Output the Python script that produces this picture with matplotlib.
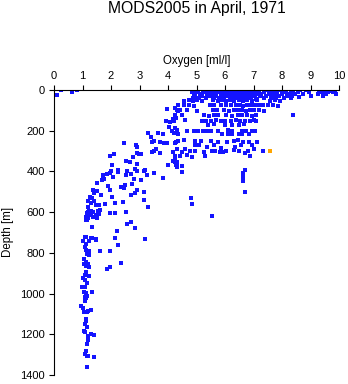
import numpy as np
import matplotlib.pyplot as plt

plt.rcParams['font.family'] = ['Liberation Sans', 'DejaVu Sans']

# (oxygen ml/l, depth m) pairs, grouped by layer

# mixed layer, 0-55 m
surface = [
    (4.88, 0), (5.05, 2), (5.22, 0), (5.40, 1), (5.58, 0), (5.75, 3), (5.92, 0),
    (6.08, 1), (6.22, 0), (6.36, 2), (6.50, 0), (6.62, 1), (6.74, 0), (6.88, 2),
    (7.02, 0), (7.20, 1), (7.48, 0), (7.70, 2), (7.92, 0), (8.15, 1), (8.40, 0),
    (8.62, 2), (8.85, 0), (9.30, 1), (9.50, 0), (9.72, 3), (9.86, 0),
    (4.85, 10), (5.00, 8), (5.28, 10), (5.46, 12), (5.62, 10), (5.82, 9), (6.02, 10),
    (6.18, 11), (6.30, 10), (6.44, 8), (6.56, 10), (6.70, 12), (6.82, 10), (6.95, 9),
    (7.12, 10), (7.36, 11), (7.62, 10), (7.84, 8), (8.06, 10), (8.30, 12), (8.55, 10),
    (8.95, 9), (9.40, 10), (9.62, 12), (9.80, 10),
    (4.90, 20), (5.14, 19), (5.36, 20), (5.56, 22), (5.70, 20), (5.88, 18), (6.10, 20),
    (6.26, 21), (6.40, 20), (6.52, 19), (6.66, 20), (6.80, 22), (6.92, 20), (7.08, 18),
    (7.28, 20), (7.55, 21), (7.76, 20), (8.00, 19), (8.22, 20), (8.46, 22), (8.72, 20),
    (9.25, 19), (9.55, 20), (9.90, 21),
    (4.95, 30), (5.20, 29), (5.48, 30), (5.66, 31), (5.85, 30), (6.00, 28), (6.14, 30),
    (6.34, 32), (6.48, 30), (6.60, 29), (6.72, 30), (6.86, 31), (7.04, 30), (7.22, 28),
    (7.44, 30), (7.66, 31), (7.90, 30), (8.16, 29), (8.36, 30), (8.60, 32), (9.02, 30),
    (9.45, 31),
    (4.86, 40), (5.10, 39), (5.34, 40), (5.60, 41), (5.80, 40), (5.96, 38), (6.20, 40),
    (6.38, 41), (6.54, 40), (6.68, 39), (6.90, 40), (7.10, 42), (7.38, 40), (7.60, 39),
    (7.80, 40), (8.08, 41), (8.30, 40),
    (4.55, 52), (4.72, 50), (4.86, 53), (5.02, 50), (5.20, 52), (5.58, 50), (5.74, 54),
    (5.88, 50), (6.04, 52), (6.18, 50), (6.32, 53), (6.48, 50), (6.62, 52), (6.78, 50),
    (6.96, 54), (7.14, 50), (7.58, 52), (7.74, 50), (7.94, 53),
]

# upper thermocline, 60-620 m, still well oxygenated
upper = [
    (4.35, 75), (4.55, 73), (4.75, 75), (4.90, 77), (5.48, 75), (5.62, 74), (5.86, 75),
    (6.05, 76), (6.22, 75), (6.40, 73), (6.52, 75), (6.64, 77), (6.76, 75), (6.90, 74),
    (7.04, 75), (7.18, 76), (7.32, 75), (7.52, 73), (7.70, 75), (7.86, 77),
    (4.30, 100), (4.42, 98), (4.68, 100), (5.00, 102), (5.58, 100), (5.72, 99),
    (5.98, 100), (6.14, 101), (6.30, 100), (6.46, 98), (6.60, 100), (6.74, 102),
    (6.88, 100), (7.02, 99), (7.20, 100), (7.36, 101),
    (4.26, 125), (4.50, 123), (5.28, 125), (5.44, 126), (5.60, 125), (5.76, 124),
    (6.02, 125), (6.24, 127), (6.44, 125), (6.60, 123), (6.76, 125), (6.94, 126),
    (7.08, 125), (8.38, 123),
    (4.22, 150), (4.60, 148), (5.18, 150), (5.34, 151), (5.50, 150), (5.70, 149),
    (5.86, 150), (6.00, 152), (6.20, 150), (6.38, 148), (6.54, 150), (6.70, 151),
    (6.86, 150), (7.00, 149), (7.10, 150),
    (5.42, 170), (5.60, 168), (6.00, 170), (6.26, 172), (6.50, 170), (6.66, 169),
    (4.15, 200), (4.30, 198), (4.66, 200), (4.90, 201), (5.05, 200), (5.22, 199),
    (5.36, 200), (5.52, 202), (5.76, 200), (6.10, 198), (6.26, 200), (6.58, 201),
    (6.74, 200), (6.96, 199), (7.06, 200),
    (5.90, 215), (6.10, 216), (6.26, 214), (6.48, 215), (6.60, 217), (6.84, 215),
    (4.36, 250), (4.56, 248), (4.96, 250), (5.16, 252), (5.50, 250), (5.77, 254),
    (6.06, 254), (6.30, 250), (6.45, 248), (6.64, 254), (6.85, 254), (7.11, 254),
    (4.96, 270), (5.10, 272), (5.36, 278), (5.60, 270), (5.86, 286), (6.35, 278),
    (6.56, 270), (6.95, 272),
    (4.19, 303), (4.33, 291), (4.50, 306), (4.60, 291), (4.76, 300), (4.96, 298),
    (5.27, 306), (5.55, 300), (5.65, 300), (5.82, 303), (5.94, 303), (6.05, 300),
    (6.30, 296), (6.50, 300), (6.70, 311), (6.79, 300), (7.03, 290), (7.35, 300),
    (4.25, 324), (4.43, 324), (4.65, 319), (4.83, 331), (5.30, 325), (6.88, 324),
    (4.25, 355), (4.30, 373), (4.50, 373), (3.99, 368), (4.50, 404),
    (6.70, 393), (6.64, 409), (6.64, 426), (6.64, 447), (6.71, 503),
    (4.80, 532), (4.85, 562), (5.53, 617),
]

# oxycline, 90-760 m
cline = [
    (3.95, 95), (4.25, 88), (4.30, 100), (4.35, 105), (3.93, 152), (4.08, 159),
    (4.19, 144), (4.27, 137), (4.04, 180), (4.25, 185), (4.36, 216), (4.22, 210),
    (3.31, 213), (3.66, 210), (3.82, 218), (3.39, 232), (3.43, 257), (3.52, 249),
    (3.72, 254), (3.86, 259), (3.95, 262), (4.28, 254), (4.25, 262), (4.33, 291),
    (3.51, 298), (3.43, 303), (3.57, 291), (3.72, 308), (2.88, 270), (2.92, 280),
    (2.46, 262), (2.90, 309), (2.99, 316), (3.07, 314), (2.76, 331), (2.12, 314),
    (1.96, 323), (2.67, 352), (2.90, 363), (2.02, 368), (2.52, 349), (4.25, 336),
    (4.30, 352), (4.29, 366), (4.19, 349), (4.33, 380), (3.84, 434), (3.51, 406),
    (3.19, 393), (3.25, 418), (3.16, 396), (3.06, 442), (2.81, 437), (2.84, 390),
    (2.90, 400), (2.71, 414), (2.55, 396), (2.53, 418), (2.26, 393), (2.26, 403),
    (1.99, 398), (1.96, 409), (2.06, 426), (1.85, 413), (1.71, 418), (1.73, 429),
    (1.75, 437), (1.67, 442), (1.50, 458), (1.88, 470), (1.96, 491), (2.05, 524),
    (2.36, 478), (2.46, 483), (2.50, 467), (2.74, 463), (2.70, 516), (2.84, 508),
    (2.90, 491), (3.17, 499), (3.16, 540), (3.31, 573), (1.38, 491), (1.40, 508),
    (1.52, 495), (1.64, 516), (1.26, 524), (1.32, 529), (1.40, 545), (1.30, 557),
    (1.48, 565), (1.79, 560), (2.14, 553), (2.43, 549), (1.20, 573), (1.57, 565),
    (1.61, 589), (1.19, 598), (1.29, 603), (1.36, 598), (1.53, 594), (1.96, 603),
    (2.14, 603), (2.52, 600), (1.12, 622), (1.20, 628), (1.26, 612), (1.38, 622),
    (1.48, 612), (1.15, 638), (2.55, 658), (2.69, 650), (1.32, 671), (2.85, 678),
    (2.20, 691), (2.15, 725), (3.20, 732), (2.26, 760),
]

# deep water, oxygen minimum
deep = [
    (1.20, 545), (1.24, 594), (1.31, 594), (1.15, 606), (1.27, 614), (1.59, 611),
    (1.50, 630), (1.12, 639), (1.47, 737), (1.32, 729),
    (1.10, 720), (1.12, 722), (1.30, 727), (1.46, 733), (1.03, 742), (1.22, 742),
    (1.12, 757), (1.08, 773), (1.12, 786), (1.22, 789), (1.17, 806), (1.24, 811),
    (1.60, 789), (1.98, 789), (2.36, 848), (1.98, 871), (1.87, 881), (1.05, 832),
    (1.12, 845), (1.06, 855), (1.20, 855), (1.12, 865), (1.22, 871), (1.12, 892),
    (1.09, 909), (1.22, 914), (1.03, 925), (1.09, 934), (1.15, 946), (0.99, 969),
    (1.08, 969), (1.06, 991), (1.34, 994), (1.12, 999), (1.17, 1010), (1.08, 1015),
    (1.12, 1024), (1.09, 1036), (0.96, 1061), (1.03, 1073), (1.05, 1089),
    (1.17, 1089), (1.29, 1081), (1.20, 1084), (1.12, 1126), (1.12, 1137),
    (1.09, 1149), (1.15, 1166), (1.05, 1184), (1.09, 1190), (1.18, 1208),
    (1.29, 1200), (1.40, 1205), (1.20, 1228), (1.15, 1248), (1.12, 1281),
    (1.09, 1297), (1.15, 1307), (1.20, 1307), (1.39, 1312), (1.17, 1361),
]

# low-oxygen surface casts
shallow_low = [(0.09, 23), (0.23, 2), (0.63, 11), (0.82, 2)]

# flagged value
flagged = [(7.58, 301)]

good = np.array(surface + upper + cline + deep + shallow_low)
bad = np.array(flagged)

fig = plt.figure(figsize=(3.48, 3.84), dpi=100)
ax = fig.add_axes([54 / 348, 1 - 375 / 384, 285 / 348, 285 / 384])

ax.plot(good[:, 0], good[:, 1], 's', color='#1414ff', ms=2.3, mew=0, ls='none')
ax.plot(bad[:, 0], bad[:, 1], 's', color='#ffa500', ms=2.3, mew=0, ls='none')

ax.set_xlim(0, 10)
ax.set_ylim(1400, 0)
ax.set_xticks(range(0, 11))
ax.set_yticks(range(0, 1401, 200))
ax.xaxis.tick_top()
ax.tick_params(axis='both', direction='out', length=3.5, width=0.8,
               labelsize=8, pad=3)
for side in ['right', 'bottom']:
    ax.spines[side].set_visible(False)
for side in ['left', 'top']:
    ax.spines[side].set_linewidth(0.8)

fig.text(196.5 / 348, 1 - 9 / 384, 'MODS2005 in April, 1971', ha='center',
         va='center', fontsize=11.3)
fig.text(196.5 / 348, 1 - 61 / 384, 'Oxygen [ml/l]', ha='center', va='center',
         fontsize=8.3)
fig.text(8 / 348, 1 - 232 / 384, 'Depth [m]', ha='center', va='center',
         rotation=90, fontsize=8.3)

fig.savefig('out.png', dpi=100)
